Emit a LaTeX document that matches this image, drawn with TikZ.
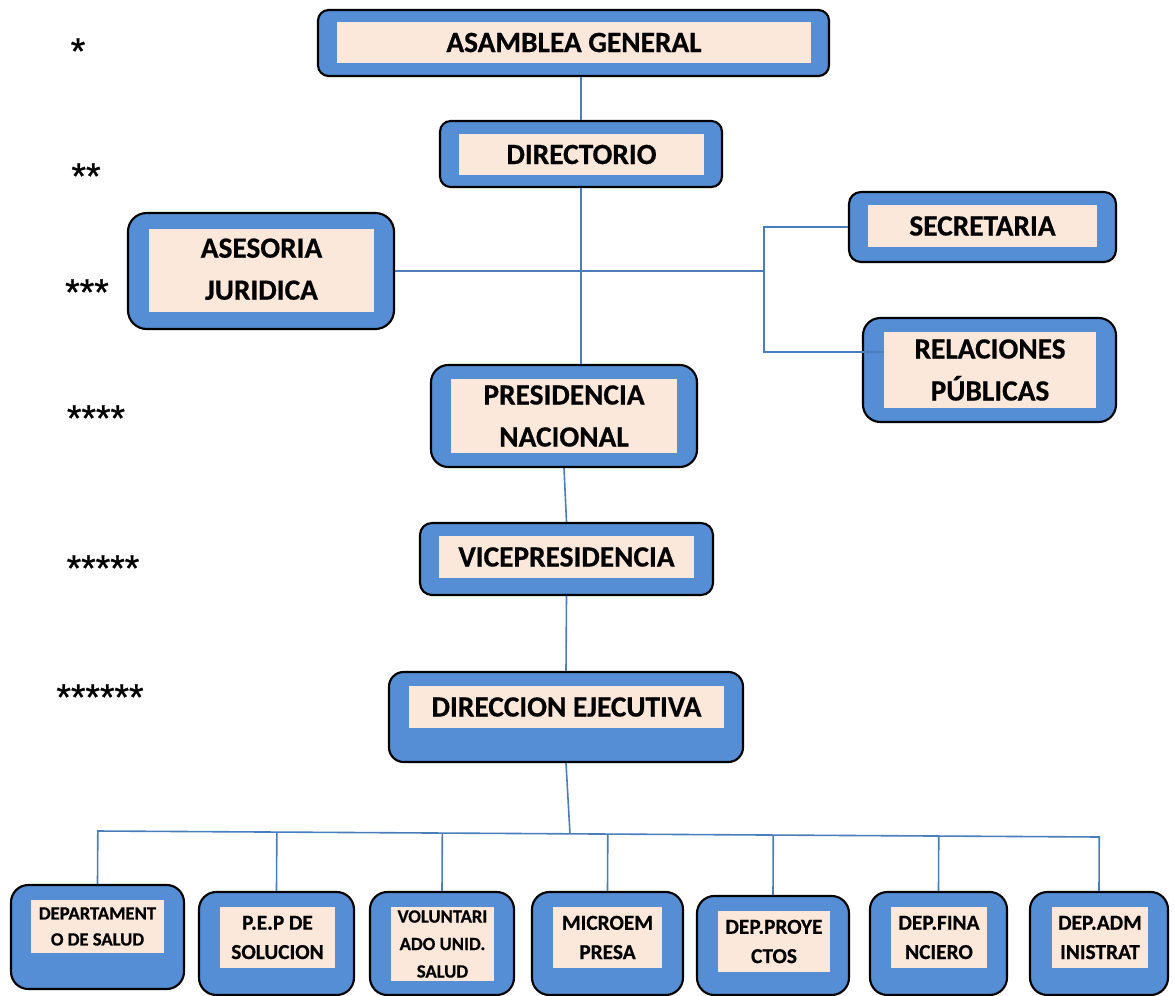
\documentclass[tikz,border=0pt]{standalone}
\usepackage{fontspec}
\setmainfont{Carlito}[BoldFeatures={FakeBold=0.6}]
\newfontfamily\starfont{Liberation Sans}[FakeBold=0.8]
\usetikzlibrary{fit,calc}
\definecolor{boxblue}{RGB}{85,142,213}
\definecolor{peach}{RGB}{252,232,218}
\definecolor{wireblue}{RGB}{74,126,187}
\tikzset{
  outerbox/.style={rectangle, draw=black, line width=1.6pt, fill=boxblue, inner sep=0pt},
  innerbox/.style={rectangle, fill=peach, inner sep=0pt},
  bigtext/.style={align=center, inner sep=0pt, font=\bfseries\fontsize{22}{31.5}\selectfont},
  smalltext/.style={align=center, inner sep=0pt, font=\bfseries\fontsize{14}{19.5}\selectfont},
  volutext/.style={align=center, inner sep=0pt, font=\bfseries\fontsize{14}{20.6}\selectfont},
  midtext/.style={align=center, inner sep=0pt, font=\bfseries\fontsize{16}{22}\selectfont},
  wire/.style={draw=wireblue, line width=1.2pt},
  stars/.style={font=\starfont\fontsize{28}{28}\selectfont, anchor=base, inner sep=0pt}
}
\begin{document}
\begin{tikzpicture}[x=0.75pt,y=-0.75pt]
\useasboundingbox (0,0) rectangle (1175,996);

% ---- upper levels ----
\node[outerbox, rounded corners=8pt, fit={(318,10) (829,76)}] (asamblea) {};
\node[innerbox, fit={(337,22) (811,63)}] (asamblea-in) {};
\node[bigtext] (asamblea-t) at (asamblea-in.center) {ASAMBLEA GENERAL};

\node[outerbox, rounded corners=8pt, fit={(440,121) (722,187)}] (directorio) {};
\node[innerbox, fit={(459,134) (704,175)}] (directorio-in) {};
\node[bigtext] (directorio-t) at (directorio-in.center) {DIRECTORIO};

\node[outerbox, rounded corners=14pt, fit={(128,213) (394,329)}] (asesoria) {};
\node[innerbox, fit={(149,229) (374,312)}] (asesoria-in) {};
\node[bigtext] (asesoria-t) at ([yshift=1pt]asesoria-in.center) {ASESORIA\\JURIDICA};

\node[outerbox, rounded corners=9pt, fit={(849,192) (1116,262)}] (secretaria) {};
\node[innerbox, fit={(868,205) (1097,247)}] (secretaria-in) {};
\node[bigtext] (secretaria-t) at (secretaria-in.center) {SECRETARIA};

\node[outerbox, rounded corners=13pt, fit={(863,318) (1116,422)}] (relaciones) {};
\node[innerbox, fit={(884,332) (1096,408)}] (relaciones-in) {};
\node[bigtext] (relaciones-t) at (relaciones-in.center) {RELACIONES\\PÚBLICAS};

\node[outerbox, rounded corners=13pt, fit={(431,365) (697,467)}] (presidencia) {};
\node[innerbox, fit={(451,379) (677,453)}] (presidencia-in) {};
\node[bigtext] (presidencia-t) at (presidencia-in.center) {PRESIDENCIA\\NACIONAL};

\node[outerbox, rounded corners=9pt, fit={(420,523) (713,595)}] (vice) {};
\node[innerbox, fit={(439,536) (694,578)}] (vice-in) {};
\node[bigtext] (vice-t) at (vice-in.center) {VICEPRESIDENCIA};

\node[outerbox, rounded corners=11pt, fit={(389,672) (743,762)}] (direccion) {};
\node[innerbox, fit={(409,686) (724,728)}] (direccion-in) {};
\node[bigtext] (direccion-t) at (direccion-in.center) {DIRECCION EJECUTIVA};

% ---- departments ----
\node[outerbox, rounded corners=13pt, fit={(11,885) (184,989)}] (salud) {};
\node[innerbox, fit={(31,900) (164,953)}] (salud-in) {};
\node[smalltext] (salud-t) at (salud-in.center) {DEPARTAMENT\\O DE SALUD};

\node[outerbox, rounded corners=13pt, fit={(199,892) (354,995)}] (pep) {};
\node[innerbox, fit={(220,907) (335,968)}] (pep-in) {};
\node[midtext] (pep-t) at (pep-in.center) {P.E.P DE\\SOLUCION};

\node[outerbox, rounded corners=13pt, fit={(370,892) (514,995)}] (volunt) {};
\node[innerbox, fit={(391,907) (494,981)}] (volunt-in) {};
\node[volutext] (volunt-t) at (volunt-in.center) {VOLUNTARI\\ADO UNID.\\SALUD};

\node[outerbox, rounded corners=13pt, fit={(532,892) (683,995)}] (micro) {};
\node[innerbox, fit={(553,907) (662,968)}] (micro-in) {};
\node[midtext] (micro-t) at (micro-in.center) {MICROEM\\PRESA};

\node[outerbox, rounded corners=13pt, fit={(697,896) (849,995)}] (proy) {};
\node[innerbox, fit={(718,911) (830,972)}] (proy-in) {};
\node[midtext] (proy-t) at (proy-in.center) {DEP.PROYE\\CTOS};

\node[outerbox, rounded corners=13pt, fit={(870,892) (1007,995)}] (fin) {};
\node[innerbox, fit={(891,907) (987,968)}] (fin-in) {};
\node[midtext] (fin-t) at (fin-in.center) {DEP.FINA\\NCIERO};

\node[outerbox, rounded corners=13pt, fit={(1030,892) (1168,995)}] (adm) {};
\node[innerbox, fit={(1052,907) (1148,968)}] (adm-in) {};
\node[midtext] (adm-t) at (adm-in.center) {DEP.ADM\\INISTRAT};

% ---- level markers ----
\node[stars] (lv1) at (78,64) {*};
\node[stars] (lv2) at (86,189) {**};
\node[stars] (lv3) at (87,305) {***};
\node[stars] (lv4) at (96,431) {****};
\node[stars] (lv5) at (103,581) {*****};
\node[stars] (lv6) at (100,710) {******};

% ---- connectors ----
\draw[wire] (directorio.north) -- (directorio.north |- asamblea.south);
\draw[wire] (directorio.south) -- (directorio.south |- presidencia.north);

\coordinate (hub) at (764,271);
\draw[wire] (asesoria.east) -- (hub);
\draw[wire] (secretaria.west) -| (hub);
\draw[wire] ($(relaciones-in.north west)+(0,20)$) -| (hub);

\draw[wire] (presidencia.south) -- (vice.north);
\draw[wire] (vice.south) -- (direccion.north);

\coordinate (busL) at (97,831);
\coordinate (busR) at (1100,837);
\coordinate (busM) at (570,834);
\draw[wire] (direccion.south) -- (busM);
\draw[wire] (busL) -- (busR);
\foreach \d in {salud,pep,volunt,micro,proy,fin,adm}
  \draw[wire] (\d.north) -- ($(busL)!(\d.north)!(busR)$);
\end{tikzpicture}
\end{document}
